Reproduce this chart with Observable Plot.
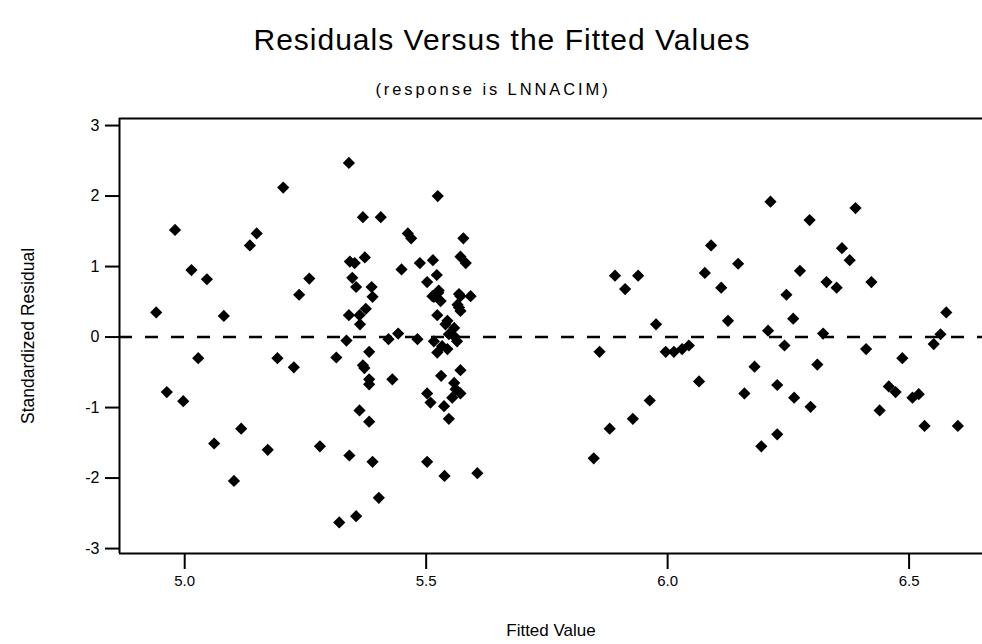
<!DOCTYPE html>
<html><head><meta charset="utf-8">
<script src="https://cdn.jsdelivr.net/npm/d3@7"></script>
<script src="https://cdn.jsdelivr.net/npm/@observablehq/plot@0.6"></script>
<style>
body{margin:0;background:#fff;font-family:"Liberation Sans",Arial,sans-serif;color:#000;}
#wrap{width:982px;height:644px;position:relative;overflow:hidden;background:#fff;}
#title{position:absolute;left:0;top:23px;width:1004px;text-align:center;font-size:30px;letter-spacing:1px;}
#sub{position:absolute;left:0;top:80px;width:986px;text-align:center;font-size:16.5px;letter-spacing:2.9px;}
#chart{position:absolute;left:0;top:105px;}
</style></head><body>
<div id="wrap">
<div id="title">Residuals Versus the Fitted Values</div>
<div id="sub">(response is LNNACIM)</div>
<div id="chart"></div>
</div>
<script>
const fitted = [
4.941,4.980,5.014,5.046,5.081,5.135,5.149,5.204,5.237,5.258,
5.340,5.369,5.406,5.373,5.342,5.352,5.347,5.355,5.387,5.389,
5.340,5.375,5.362,5.363,5.335,4.963,4.997,5.028,5.061,5.117,
5.102,5.172,5.192,5.226,5.280,5.314,5.341,5.320,5.355,5.382,
5.369,5.372,5.382,5.382,5.362,5.382,5.389,5.402,
5.524,5.462,5.469,5.577,5.449,5.487,5.514,5.571,5.582,5.522,
5.502,5.525,5.530,5.513,5.571,5.592,5.568,5.523,5.544,5.558,
5.442,5.422,5.482,5.540,5.547,5.564,5.516,5.533,5.523,5.544,
5.558,5.430,5.531,5.571,5.558,5.502,5.509,5.554,5.571,5.537,
5.561,5.547,5.502,5.538,5.606,5.526,5.516,5.565,5.568,5.571,
5.891,5.939,5.912,5.859,6.213,6.090,6.146,6.077,6.111,5.976,
6.125,6.208,5.996,6.013,6.030,6.044,6.180,6.065,6.159,6.227,
5.963,5.928,5.880,6.227,6.194,5.847,6.389,6.294,6.361,6.377,
6.274,6.329,6.350,6.422,6.246,6.260,6.322,6.577,6.565,6.551,
6.242,6.411,6.486,6.310,6.262,6.296,6.458,6.472,6.507,6.520,
6.439,6.532,6.601
];
const residual = [
0.35,1.52,0.95,0.82,0.30,1.30,1.47,2.12,0.60,0.83,
2.47,1.70,1.70,1.13,1.07,1.05,0.84,0.71,0.71,0.57,
0.31,0.40,0.31,0.18,-0.05,-0.78,-0.91,-0.30,-1.51,-1.30,
-2.04,-1.60,-0.30,-0.43,-1.55,-0.29,-1.68,-2.63,-2.54,-0.21,
-0.40,-0.44,-0.60,-0.67,-1.04,-1.20,-1.77,-2.28,
2.00,1.47,1.40,1.40,0.96,1.05,1.09,1.14,1.05,0.88,
0.78,0.63,0.51,0.58,0.58,0.58,0.42,0.31,0.23,0.13,
0.05,-0.03,-0.03,0.18,0.04,-0.06,-0.06,-0.13,-0.22,-0.17,
0.01,-0.60,-0.55,-0.47,-0.65,-0.80,-0.93,-0.86,-0.80,-0.98,
-0.74,-1.16,-1.77,-1.97,-1.93,0.66,0.57,0.46,0.61,0.37,
0.87,0.87,0.68,-0.21,1.92,1.30,1.04,0.91,0.70,0.18,
0.23,0.09,-0.21,-0.21,-0.17,-0.12,-0.42,-0.63,-0.80,-0.68,
-0.90,-1.16,-1.30,-1.38,-1.55,-1.72,1.83,1.66,1.26,1.09,
0.94,0.78,0.70,0.78,0.60,0.26,0.05,0.35,0.04,-0.10,
-0.12,-0.17,-0.30,-0.39,-0.86,-0.99,-0.70,-0.78,-0.86,-0.81,
-1.04,-1.26,-1.26
];
const xTicks = [5.0, 5.5, 6.0, 6.5];
const yTicks = [-3, -2, -1, 0, 1, 2, 3];
const xLabel = "Fitted Value";
const yLabel = "Standardized Residual";
const xDomain = [4.865, 6.652];
const yDomain = [-3.07, 3.1];

const points = fitted.map((x, i) => ({x, y: residual[i]}));
const font = '"Liberation Sans", Arial, sans-serif';

const chart = Plot.plot({
  width: 982, height: 539,
  marginTop: 13, marginBottom: 91, marginLeft: 119, marginRight: 0,
  style: {fontFamily: font, fontSize: "15px", color: "#000", background: "#fff", overflow: "visible"},
  x: {domain: xDomain},
  y: {domain: yDomain},
  marks: [
    Plot.ruleY([0], {strokeDasharray: "13,13", strokeWidth: 2.5, stroke: "#000"}),
    Plot.ruleY([yDomain[1]], {strokeWidth: 2, stroke: "#000"}),
    Plot.ruleY([yDomain[0]], {strokeWidth: 2, stroke: "#000"}),
    Plot.ruleX([xDomain[0]], {strokeWidth: 2, stroke: "#000"}),
    Plot.axisX(xTicks, {tickFormat: d => d.toFixed(1), tickSize: 16, tickPadding: 6, strokeWidth: 2, fontSize: 15, label: null}),
    Plot.axisY(yTicks, {tickFormat: d => String(d), tickSize: 14, tickPadding: 6, strokeWidth: 2, fontSize: 16, label: null}),
    Plot.text([xLabel], {frameAnchor: "bottom", dy: 82, lineAnchor: "bottom", textAnchor: "middle", fontSize: 17, fill: "#000", text: d => d}),
    Plot.text([yLabel], {frameAnchor: "left", dx: -91, rotate: -90, lineAnchor: "middle", textAnchor: "middle", fontSize: 17.5, fill: "#000", text: d => d}),
    Plot.dot(points, {x: "x", y: "y", symbol: "diamond2", r: 5.5, fill: "#000", stroke: "none"})
  ]
});
document.getElementById("chart").appendChild(chart);
</script>
</body></html>
